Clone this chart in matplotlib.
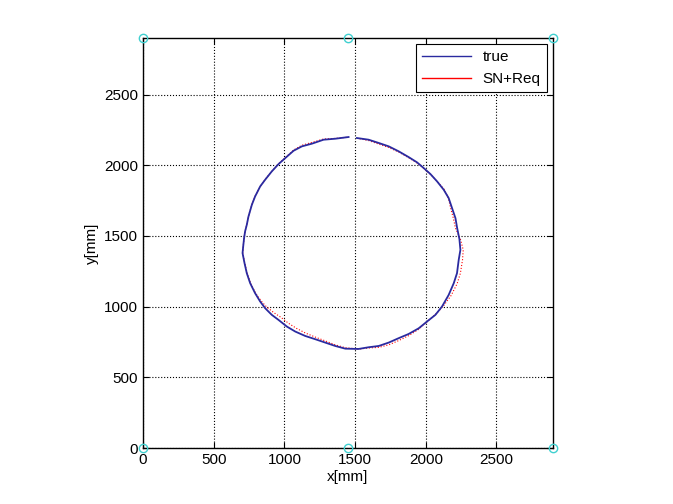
import matplotlib.pyplot as plt
from matplotlib.lines import Line2D

# 基準点 (アンカー)
anchor_x = [0, 1450, 2900, 0, 1450, 2900]
anchor_y = [0, 0, 0, 2900, 2900, 2900]

# 真の軌跡
true_x = [1454, 1360, 1277, 1195, 1124, 1065, 1006, 959, 911, 864, 829, 793, 770,
          746, 734, 722, 715, 709, 704, 718, 734, 758, 793, 829, 864, 911, 959,
          1018, 1077, 1147, 1218, 1289, 1360, 1431, 1525, 1596, 1667, 1738, 1808,
          1879, 1950, 2009, 2068, 2115, 2162, 2198, 2221, 2233, 2245, 2238, 2222,
          2210, 2186, 2162, 2127, 2080, 2033, 1985, 1938, 1879, 1808, 1738, 1667,
          1596, 1513]
true_y = [2200, 2188, 2181, 2153, 2134, 2103, 2051, 2009, 1957, 1898, 1851, 1780,
          1721, 1638, 1579, 1532, 1485, 1430, 1379, 1308, 1237, 1166, 1095, 1036,
          989, 942, 906, 859, 824, 793, 770, 746, 722, 703, 701, 713, 722, 746,
          777, 807, 847, 895, 942, 1001, 1083, 1166, 1237, 1331, 1402, 1478, 1556,
          1626, 1697, 1768, 1827, 1886, 1938, 1981, 2021, 2058, 2099, 2134, 2158,
          2181, 2193]

# 推定軌跡 (SN+Req)
est_x = [1440, 1360, 1277, 1195, 1124, 1065, 1006, 959, 911, 864, 829, 793, 770,
         746, 734, 722, 715, 709, 706, 720, 737, 762, 798, 836, 874, 925, 975,
         1030, 1085, 1150, 1218, 1289, 1360, 1431, 1525, 1596, 1667, 1738, 1808,
         1879, 1950, 2009, 2068, 2125, 2180, 2222, 2245, 2260, 2265, 2245, 2210,
         2195, 2176, 2160, 2130, 2085, 2040, 1992, 1945, 1885, 1812, 1740, 1667,
         1596, 1520]
est_y = [2198, 2190, 2186, 2162, 2142, 2108, 2053, 2012, 1958, 1900, 1850, 1782,
         1722, 1640, 1580, 1533, 1486, 1430, 1378, 1306, 1235, 1163, 1093, 1040,
         998, 958, 925, 882, 847, 813, 785, 758, 730, 710, 700, 708, 712, 730,
         760, 795, 840, 893, 945, 1005, 1080, 1163, 1237, 1331, 1402, 1478, 1556,
         1626, 1697, 1768, 1830, 1882, 1930, 1972, 2012, 2050, 2092, 2125, 2150,
         2175, 2190]

ticks = [0, 500, 1000, 1500, 2000, 2500]


def main():
    plt.rcParams['font.family'] = ['Liberation Sans', 'DejaVu Sans']
    fig = plt.figure(figsize=(6.73, 5.04), dpi=100)
    ax = fig.add_axes([0.2125, 0.111, 0.6092, 0.8135])

    # 軌跡
    ax.plot(est_x, est_y, color='red', lw=0.8, ls=':', zorder=2)
    ax.plot(true_x, true_y, color='#2a2aa0', lw=1.3, zorder=3)
    ax.plot(anchor_x, anchor_y, 'o', ms=6, mfc='none', mec='#40d0d0',
            mew=1.0, clip_on=False, zorder=5)

    # 表示設定
    ax.set_xlim(0, 2900)
    ax.set_ylim(0, 2900)
    ax.set_xticks(ticks)
    ax.set_yticks(ticks)
    ax.tick_params(direction='in', top=True, right=True, labelsize=11, length=4)
    ax.grid(True, ls=':', color='black', lw=0.8)
    for s in ax.spines.values():
        s.set_linewidth(1.0)

    ax.set_xlabel('x[mm]', fontsize=11, labelpad=2)
    ax.set_ylabel('y[mm]', fontsize=11, labelpad=4)

    handles = [Line2D([], [], color='#2a2aa0', lw=1.0),
               Line2D([], [], color='red', lw=1.0)]
    leg = ax.legend(handles, ['true', 'SN+Req'], loc='upper right',
                    fancybox=False, framealpha=1, edgecolor='black',
                    fontsize=11, borderaxespad=0.4, handlelength=3.2)
    leg.get_frame().set_linewidth(0.8)

    fig.savefig('out.png')


if __name__ == '__main__':
    main()
